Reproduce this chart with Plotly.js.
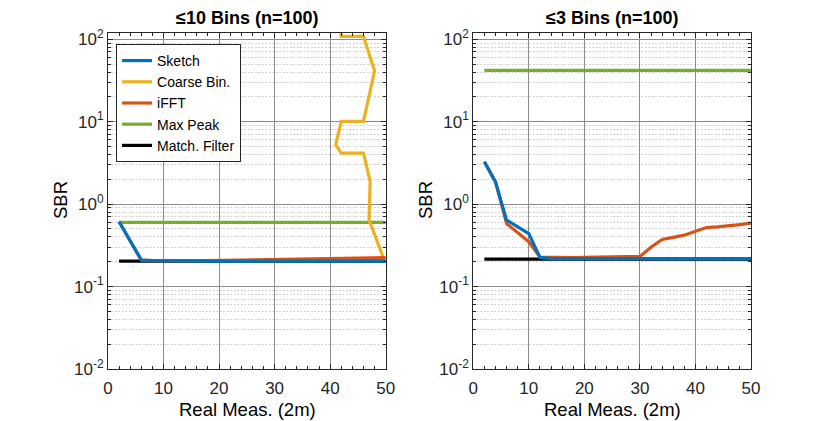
<!DOCTYPE html>
<html>
<head>
<meta charset="utf-8">
<script src="https://cdn.plot.ly/plotly-3.0.1.min.js"></script>
<style>html,body{margin:0;padding:0;background:#fff}</style>
</head>
<body>
<div id="chart" style="width:830px;height:421px"></div>
<script>
// number of real measurements (x axis)
var meas = [2,4,6,8,10,12,14,16,18,20,22,24,26,28,30,32,34,36,38,40,42,44,46,48,50]

// left panel: <=10 bins
var sketch10 = [0.61,0.36,0.21,0.206,0.205,0.205,0.204,0.204,0.204,0.204,0.204,0.204,0.204,0.204,0.204,0.204,0.204,0.204,0.204,0.204,0.204,0.204,0.204,0.204,0.204]
var ifft10   = [0.61,0.36,0.21,0.206,0.205,0.205,0.205,0.206,0.207,0.208,0.209,0.21,0.211,0.212,0.213,0.214,0.215,0.216,0.217,0.218,0.219,0.22,0.221,0.222,0.224]
var peak10   = [0.6,0.6,0.6,0.6,0.6,0.6,0.6,0.6,0.6,0.6,0.6,0.6,0.6,0.6,0.6,0.6,0.6,0.6,0.6,0.6,0.6,0.6,0.6,0.6,0.6]
var match10  = [0.203,0.203,0.203,0.203,0.203,0.203,0.203,0.203,0.203,0.203,0.203,0.203,0.203,0.203,0.203,0.203,0.203,0.203,0.203,0.203,0.203,0.203,0.203,0.203,0.203]
var coarseX  = [41.7,42,46,48,46,42,41,42,46,47.2,47,49.6,50]
var coarseY  = [300,108,108,41.4,10.1,10.1,5.24,4.15,4.15,1.88,0.645,0.221,0.215]

// right panel: <=3 bins
var sketch3 = [3.26,1.86,0.64,0.53,0.44,0.226,0.218,0.218,0.218,0.218,0.218,0.218,0.218,0.218,0.218,0.218,0.218,0.218,0.218,0.218,0.218,0.218,0.218,0.218,0.218]
var ifft3   = [3.26,1.86,0.58,0.45,0.35,0.228,0.226,0.225,0.225,0.226,0.227,0.228,0.228,0.229,0.232,0.3,0.373,0.395,0.42,0.47,0.52,0.53,0.545,0.565,0.59]
var peak3   = [42,42,42,42,42,42,42,42,42,42,42,42,42,42,42,42,42,42,42,42,42,42,42,42,42]
var match3  = [0.215,0.215,0.215,0.215,0.215,0.215,0.215,0.215,0.215,0.215,0.215,0.215,0.215,0.215,0.215,0.215,0.215,0.215,0.215,0.215,0.215,0.215,0.215,0.215,0.215]

var titles = ['\u226410 Bins (n=100)', '\u22643 Bins (n=100)']
var xTicks = [0,10,20,30,40,50]
var yTicks = [0.01,0.1,1,10,100]
var yTickText = ['10<sup>-2</sup>','10<sup>-1</sup>','10<sup>0</sup>','10<sup>1</sup>','10<sup>2</sup>']

var C = {sketch:'#0072BD', coarse:'#EDB120', ifft:'#D95319', peak:'#77AC30', match:'#000000'}
var FONT = 'Liberation Sans, Arial, sans-serif'
var INK = '#262626'

var minorY = []
for (var d = -2; d <= 1; d++) {
  for (var k = 2; k <= 9; k++) minorY.push(k * Math.pow(10, d))
}

function line(x, y, name, color, axis, show, rank) {
  return {
    x: x, y: y, name: name, type: 'scatter', mode: 'lines',
    line: {color: color, width: 3.2},
    xaxis: 'x' + axis, yaxis: 'y' + axis,
    showlegend: show, legendrank: rank
  }
}

var data = [
  line(meas, match10, 'Match. Filter', C.match, '', true, 5),
  line(meas, peak10, 'Max Peak', C.peak, '', true, 4),
  line(coarseX, coarseY, 'Coarse Bin.', C.coarse, '', true, 2),
  line(meas, ifft10, 'iFFT', C.ifft, '', true, 3),
  line(meas, sketch10, 'Sketch', C.sketch, '', true, 1),
  line(meas, match3, 'Match. Filter', C.match, '2', false, 5),
  line(meas, peak3, 'Max Peak', C.peak, '2', false, 4),
  line(meas, ifft3, 'iFFT', C.ifft, '2', false, 3),
  line(meas, sketch3, 'Sketch', C.sketch, '2', false, 1)
]

function xAxis(domain, anchor) {
  return {
    domain: domain, anchor: anchor, range: [0, 50],
    tickmode: 'array', tickvals: xTicks,
    ticks: 'inside', ticklen: 5, tickcolor: INK, ticklabelstandoff: 4,
    showline: true, linecolor: INK, linewidth: 1, mirror: 'ticks',
    showgrid: true, gridcolor: '#8c8c8c', gridwidth: 1, zeroline: false,
    tickfont: {family: FONT, size: 17, color: INK},
    minor: {dtick: 2, ticks: 'inside', ticklen: 3, tickcolor: INK, showgrid: false}
  }
}

function yAxis(anchor) {
  return {
    domain: [0.1235, 0.9223], anchor: anchor, type: 'log', range: [-2, 2.079],
    tickmode: 'array', tickvals: yTicks, ticktext: yTickText,
    ticks: 'inside', ticklen: 5, tickcolor: INK,
    showline: true, linecolor: INK, linewidth: 1, mirror: 'ticks',
    showgrid: true, gridcolor: '#8c8c8c', gridwidth: 1, zeroline: false,
    tickfont: {family: FONT, size: 17, color: INK},
    minor: {tickmode: 'array', tickvals: minorY, ticks: 'inside', ticklen: 3, tickcolor: INK,
            showgrid: true, gridcolor: '#d2d2d2', griddash: '2px,1.5px', gridwidth: 1}
  }
}

var ann = []
function label(text, x, y, size, bold, angle) {
  ann.push({
    text: bold ? '<b>' + text + '</b>' : text,
    xref: 'paper', yref: 'paper', x: x / 830, y: 1 - y / 421,
    xanchor: 'center', yanchor: 'middle', showarrow: false, textangle: angle || 0,
    font: {family: FONT, size: size, color: '#000'}
  })
}
label(titles[0], 247, 18, 18, true)
label(titles[1], 612, 18, 18, true)
label('SBR', 60, 200, 18.5, false, -90)
label('SBR', 425, 200, 18.5, false, -90)
label('Real Meas. (2m)', 247, 409, 18.5, false)
label('Real Meas. (2m)', 612, 409, 18.5, false)

var layout = {
  width: 830, height: 421,
  margin: {t: 0, r: 0, b: 0, l: 0},
  paper_bgcolor: '#fff', plot_bgcolor: '#fff',
  xaxis: xAxis([0.1301, 0.4647], 'y'),
  yaxis: yAxis('x'),
  xaxis2: xAxis([0.5702, 0.9048], 'y2'),
  yaxis2: yAxis('x2'),
  annotations: ann,
  showlegend: true,
  legend: {
    x: 0.1398, y: 0.8955, xanchor: 'left', yanchor: 'top',
    bgcolor: '#fff', bordercolor: INK, borderwidth: 1,
    font: {family: FONT, size: 14, color: '#000'},
    itemwidth: 30, tracegroupgap: 0
  }
}

Plotly.newPlot('chart', data, layout, {displayModeBar: false, staticPlot: true})
</script>
</body>
</html>
